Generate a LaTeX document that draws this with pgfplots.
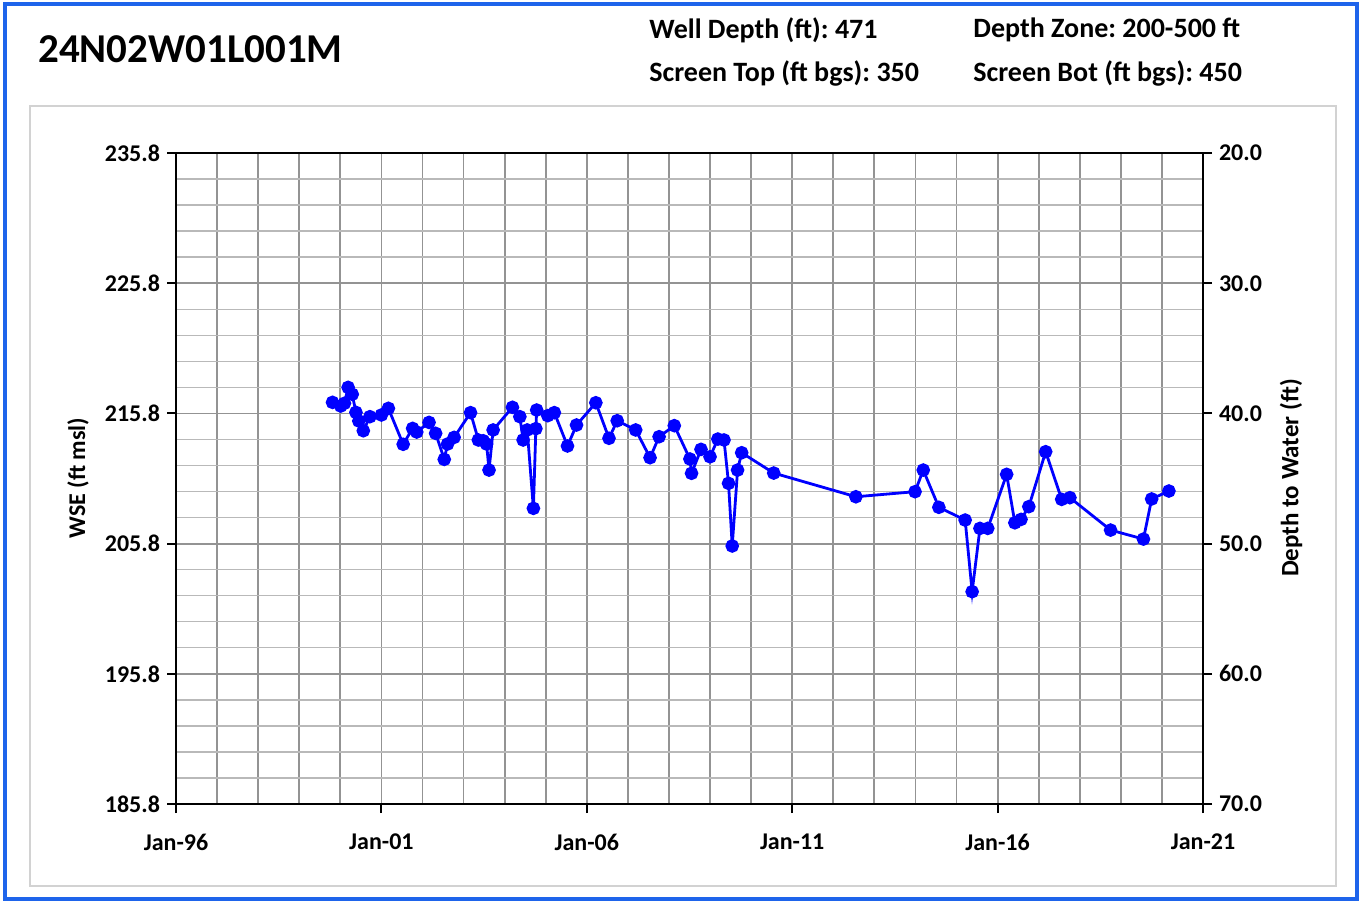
\documentclass[border=0pt]{standalone}
\usepackage{fontspec}
\setmainfont{Carlito}
\usepackage{pgfplots}
\pgfplotsset{compat=1.18}
\definecolor{wseblue}{RGB}{0,0,255}
\definecolor{frameblue}{RGB}{30,100,235}
\frenchspacing

\pgfplotstableread{
yr wse
1999.81 216.65
2000.01 216.37
2000.10 216.58
2000.19 217.80
2000.29 217.27
2000.38 215.88
2000.45 215.22
2000.56 214.47
2000.72 215.55
2001.00 215.68
2001.17 216.19
2001.53 213.43
2001.76 214.65
2001.86 214.37
2002.16 215.11
2002.32 214.27
2002.53 212.27
2002.61 213.45
2002.77 213.96
2003.17 215.86
2003.36 213.76
2003.48 213.70
2003.56 213.45
2003.62 211.45
2003.72 214.53
2004.19 216.27
2004.37 215.55
2004.45 213.76
2004.55 214.53
2004.70 208.51
2004.76 214.63
2004.78 216.06
2005.05 215.63
2005.21 215.86
2005.53 213.30
2005.75 214.91
2006.22 216.62
2006.54 213.89
2006.74 215.24
2007.19 214.53
2007.54 212.40
2007.76 214.01
2008.13 214.86
2008.51 212.30
2008.55 211.20
2008.78 213.04
2009.00 212.47
2009.19 213.83
2009.34 213.76
2009.45 210.43
2009.54 205.62
2009.67 211.45
2009.77 212.78
2010.55 211.22
2012.55 209.40
2013.99 209.79
2014.19 211.45
2014.57 208.59
2015.21 207.61
2015.38 202.11
2015.57 206.97
2015.76 206.97
2016.22 211.12
2016.42 207.40
2016.57 207.66
2016.76 208.64
2017.17 212.86
2017.56 209.20
2017.76 209.33
2018.75 206.84
2019.55 206.15
2019.75 209.23
2020.17 209.84
}\wsedata

\begin{document}
\begin{tikzpicture}
\useasboundingbox (0,0) rectangle (682pt,-451pt);
% frames and header (pixel coords scaled to 0.5pt)
\begin{scope}[x=0.5pt,y=-0.5pt]
  \draw[frameblue, line width=2pt] (5,4) rectangle (1357,899);
  \draw[gray!35, line width=1.2pt] (30,106) rectangle (1336,886);
  \node[anchor=west, inner sep=0] at (38,49) {\fontsize{20.5}{24}\selectfont\bfseries 24N02W01L001M};
  \node[anchor=west, inner sep=0] at (649,30) {\fontsize{14}{16}\selectfont\bfseries Well Depth (ft): 471};
  \node[anchor=west, inner sep=0] at (649,73) {\fontsize{14}{16}\selectfont\bfseries Screen Top (ft bgs): 350};
  \node[anchor=west, inner sep=0] at (973,30) {\fontsize{14}{16}\selectfont\bfseries Depth Zone: 200-500 ft};
  \node[anchor=west, inner sep=0] at (973,73) {\fontsize{14}{16}\selectfont\bfseries Screen Bot (ft bgs): 450};
  \node[rotate=90, inner sep=0] at (78,478) {\fontsize{12}{14}\selectfont\bfseries WSE (ft msl)};
  \node[rotate=90, inner sep=0] at (1291,478) {\fontsize{12.5}{14}\selectfont\bfseries Depth to Water (ft)};
\end{scope}

\begin{axis}[
  at={(88pt,-402pt)}, anchor=south west,
  scale only axis, width=513.5pt, height=325.5pt,
  xmin=1996, xmax=2021, ymin=185.8, ymax=235.8,
  xtick={1996,2001,2006,2011,2016,2021},
  xticklabels={Jan-96,Jan-01,Jan-06,Jan-11,Jan-16,Jan-21},
  ytick={185.8,195.8,205.8,215.8,225.8,235.8},
  minor x tick num=4, minor y tick num=4,
  xtick pos=bottom, ytick pos=left,
  tick align=outside, major tick length=4.5pt, minor tick length=0pt,
  grid=both,
  every major x grid/.style={gray!85, line width=0.9pt},
  every minor x grid/.style={gray!85, line width=0.9pt},
  every major y grid/.style={gray!85, line width=0.9pt},
  every minor y grid/.style={gray!55, line width=0.7pt},
  axis line style={black, line width=1pt},
  every tick/.style={black, line width=1pt},
  ticklabel style={font=\fontsize{12}{14}\selectfont\bfseries},
  /pgf/number format/assume math mode=true,
  yticklabel style={/pgf/number format/.cd, fixed, fixed zerofill, precision=1},
  xticklabel style={yshift=-7pt},
]
\addplot[wseblue, line width=1.4pt, mark=*, mark size=2.7pt, mark options={solid, fill=wseblue}] table[x=yr, y=wse] {\wsedata};
\end{axis}

\begin{axis}[
  at={(88pt,-402pt)}, anchor=south west,
  scale only axis, width=513.5pt, height=325.5pt,
  xmin=1996, xmax=2021, ymin=20, ymax=70, y dir=reverse,
  hide x axis, axis y line*=right,
  ytick={20,30,40,50,60,70},
  tick align=outside, major tick length=4.5pt,
  axis line style={black, line width=1pt},
  every tick/.style={black, line width=1pt},
  ticklabel style={font=\fontsize{12}{14}\selectfont\bfseries},
  /pgf/number format/assume math mode=true,
  yticklabel style={/pgf/number format/.cd, fixed, fixed zerofill, precision=1},
]
\end{axis}
\end{tikzpicture}
\end{document}
